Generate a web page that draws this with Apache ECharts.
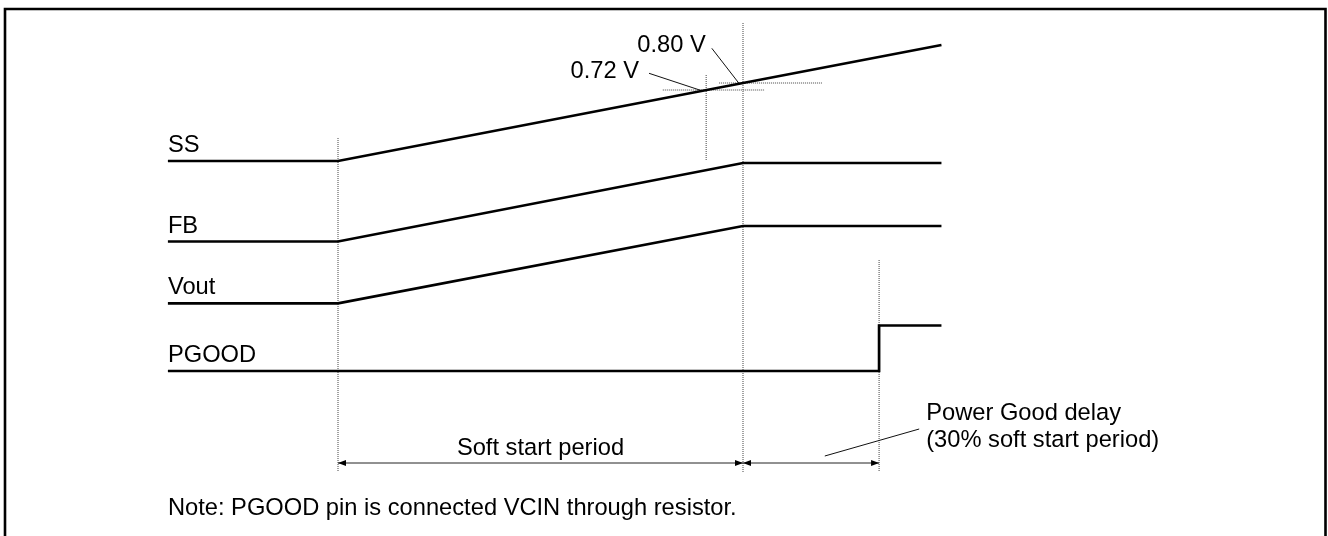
<!DOCTYPE html>
<html><head><meta charset="utf-8">
<script src="https://cdn.jsdelivr.net/npm/echarts@6/dist/echarts.min.js"></script>
<style>html,body{margin:0;padding:0;background:#fff}#c{width:1328px;height:536px}</style>
</head><body><div id="c"></div>
<script>
// Time axis: 0 = start of soft start, 1 = end of soft start period
// Level axis: arbitrary signal level units
const signalNames = ['SS', 'FB', 'Vout', 'PGOOD'];
const rampTimes = [-0.42, 0, 1, 1.49];
const ssLevels = [37.5, 37.5, 45.3, 49.1];
const fbLevels = [29.45, 29.45, 37.3, 37.3];
const voutLevels = [23.27, 23.27, 31.0, 31.0];
const pgoodTimes = [-0.42, 1.336, 1.336, 1.49];
const pgoodLevels = [16.5, 16.5, 21.05, 21.05];

// vertical dotted guides
const guideTimes = [0, 1, 1.336];
const guideTops = [39.8, 51.3, 27.6];
const guideBottom = 6.4;

// threshold markers on SS
const thresholdNames = ['0.72 V', '0.80 V'];
const thresholdTimes = [0.909, 1.0];
const thresholdLevels = [44.6, 45.3];
const thresholdHStart = [0.802, 0.941];
const thresholdHEnd = [1.054, 1.195];
const thresholdVTop = [46.1, null];
const thresholdVBottom = [37.6, null];
const thresholdLeaderFrom = [[0.768, 46.27], [0.923, 48.77]];
const thresholdLeaderTo = [[0.898, 44.53], [0.990, 45.27]];

// period arrows
const periodLabels = ['Soft start period', ''];
const periodStarts = [0, 1];
const periodEnds = [1, 1.336];
const arrowLevel = 7.3;
const pgLeaderFrom = [1.202, 8.0];
const pgLeaderTo = [1.435, 10.7];
const pgNoteLines = ['Power Good delay', '(30% soft start period)'];
const footNote = 'Note: PGOOD pin is connected VCIN through resistor.';
const footNoteLevel = 2.78;

const FONT = '"Liberation Sans", Arial, Helvetica, sans-serif';
const FS = 23.7;
const zip = (xs, ys) => xs.map((x, i) => [x, ys[i]]);

const chart = echarts.init(document.getElementById('c'), null, {renderer: 'canvas'});

const traceStyle = {color: '#000', width: 2.7, cap: 'butt', join: 'miter'};
const dotStyle = {color: '#444', width: 1, type: [1, 1]};
const thinStyle = {color: '#111', width: 1};

const series = [];
const traces = [zip(rampTimes, ssLevels), zip(rampTimes, fbLevels), zip(rampTimes, voutLevels), zip(pgoodTimes, pgoodLevels)];
traces.forEach((d, i) => series.push({
  name: signalNames[i], type: 'line', data: d, symbol: 'none', silent: true,
  lineStyle: traceStyle, z: 5
}));
// dotted guides
guideTimes.forEach((t, i) => series.push({
  type: 'line', data: [[t, guideTops[i]], [t, guideBottom]], symbol: 'none', silent: true, lineStyle: dotStyle, z: 2
}));
thresholdNames.forEach((n, i) => {
  series.push({type: 'line', data: [[thresholdHStart[i], thresholdLevels[i]], [thresholdHEnd[i], thresholdLevels[i]]],
    symbol: 'none', silent: true, lineStyle: dotStyle, z: 2});
  if (thresholdVTop[i] != null) series.push({type: 'line', data: [[thresholdTimes[i], thresholdVTop[i]], [thresholdTimes[i], thresholdVBottom[i]]],
    symbol: 'none', silent: true, lineStyle: dotStyle, z: 2});
  series.push({type: 'line', data: [thresholdLeaderFrom[i], thresholdLeaderTo[i]], symbol: 'none', silent: true, lineStyle: thinStyle, z: 3});
});
series.push({type: 'line', data: [pgLeaderFrom, pgLeaderTo], symbol: 'none', silent: true, lineStyle: thinStyle, z: 3});
// double-headed period arrows
series.push({
  type: 'custom', silent: true, z: 4,
  data: periodStarts.map((s, i) => [s, periodEnds[i], arrowLevel]),
  encode: {x: [0, 1], y: 2},
  renderItem: function (params, api) {
    const a = api.coord([api.value(0), api.value(2)]);
    const b = api.coord([api.value(1), api.value(2)]);
    const L = 8, H = 3;
    return {type: 'group', children: [
      {type: 'line', shape: {x1: a[0], y1: a[1], x2: b[0], y2: b[1]}, style: {stroke: '#222', lineWidth: 1}},
      {type: 'polygon', shape: {points: [[a[0], a[1]], [a[0] + L, a[1] - H], [a[0] + L, a[1] + H]]}, style: {fill: '#000'}},
      {type: 'polygon', shape: {points: [[b[0], b[1]], [b[0] - L, b[1] - H], [b[0] - L, b[1] + H]]}, style: {fill: '#000'}}
    ]};
  }
});

chart.setOption({
  animation: false,
  backgroundColor: '#fff',
  grid: {left: 0, right: 0, top: 0, bottom: 0},
  xAxis: {type: 'value', min: -0.83457, max: 2.44444, show: false},
  yAxis: {type: 'value', min: 0, max: 53.6, show: false},
  series: series
});

function px(p) { return chart.convertToPixel({gridIndex: 0}, p); }
const g = [];
g.push({type: 'rect', shape: {x: 5, y: 9, width: 1320.5, height: 540}, style: {stroke: '#000', lineWidth: 2.6, fill: null}, silent: true, z: 10});
function txt(text, p, dx, dy, align) {
  g.push({type: 'text', x: p[0] + dx, y: p[1] + dy, silent: true, z: 10,
    style: {text: text, fill: '#000', font: FS + 'px ' + FONT, align: align, verticalAlign: 'middle'}});
}
traces.forEach((d, i) => txt(signalNames[i], px(d[0]), 0, -15.5, 'left'));
thresholdNames.forEach((n, i) => txt(n, px(thresholdLeaderFrom[i]), i === 1 ? -6 : -10, i === 1 ? -2.6 : -2, 'right'));
periodLabels.forEach((l, i) => { if (l) txt(l, px([(periodStarts[i] + periodEnds[i]) / 2, arrowLevel]), 0, -14.8, 'center'); });
g.push({type: 'text', x: px(pgLeaderTo)[0] + 7, y: px(pgLeaderTo)[1] - 2.1, silent: true, z: 10,
  style: {text: pgNoteLines.join('\n'), fill: '#000', font: FS + 'px ' + FONT, align: 'left', verticalAlign: 'middle', lineHeight: 27.3}});
txt(footNote, px([rampTimes[0], footNoteLevel]), 0, 0, 'left');
chart.setOption({graphic: g});
</script></body></html>
